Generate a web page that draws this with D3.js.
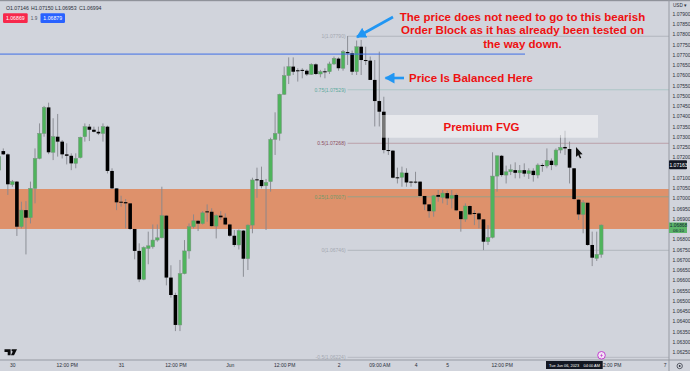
<!DOCTYPE html>
<html>
<head>
<meta charset="utf-8">
<script src="https://cdn.jsdelivr.net/npm/d3@7"></script>
<style>
    html, body { margin: 0; padding: 0; background: #d1d4dc; overflow: hidden; }
    svg { display: block; font-family: "Liberation Sans", Arial, sans-serif; }
    .tick text { fill: #2a2e39; font-size: 5px; }
</style>
</head>
<body>
<svg id="chart" width="690" height="371"></svg>
<script>
// hourly EUR/USD candles, left to right
const opens = [
    1.07137,1.07230,1.07214,1.07066,1.07081,1.06861,1.06942,1.06905,1.07048,1.07194,1.07316,1.07443,1.07224,1.07300,1.07276,1.07214,1.07207,1.07170,1.07198,1.07300,
    1.07349,1.07334,1.07324,1.07316,1.07349,1.07133,1.07048,1.06983,1.06981,1.06975,1.06850,1.06743,1.06604,1.06755,1.06763,1.06796,1.06807,1.06915,1.06613,1.06528,
    1.06382,1.06632,1.06743,1.06861,1.06890,1.06876,1.06936,1.06934,1.06864,1.06915,1.06905,1.06872,1.06817,1.06772,1.06842,1.06705,1.06869,1.07092,1.07089,1.07061,
    1.07081,1.07287,1.07316,1.07507,1.07598,1.07642,1.07624,1.07626,1.07622,1.07604,1.07653,1.07606,1.07619,1.07617,1.07655,1.07681,1.07634,1.07713,1.07707,1.07617,
    1.07739,1.07674,1.07671,1.07577,1.07474,1.07422,1.07235,1.07232,1.07102,1.07102,1.07124,1.07081,1.07081,1.07081,1.07011,1.06970,1.06937,1.07016,1.07004,1.07025,
    1.06999,1.07016,1.06937,1.06898,1.06962,1.06928,1.06926,1.06897,1.06788,1.06809,1.07108,1.07207,1.07113,1.07129,1.07137,1.07124,1.07137,1.07120,1.07134,1.07113,
    1.07162,1.07157,1.07183,1.07162,1.07235,1.07250,1.07240,1.07146,1.06993,1.06921,1.06978,1.06772,1.06707,1.06726
];
const highs = [
    1.07211,1.07243,1.07219,1.07089,1.07084,1.06983,1.06986,1.07081,1.07243,1.07365,1.07450,1.07466,1.07390,1.07411,1.07284,1.07268,1.07219,1.07219,1.07300,1.07365,
    1.07362,1.07349,1.07349,1.07365,1.07354,1.07146,1.07048,1.07012,1.06996,1.06975,1.06850,1.06780,1.06765,1.06837,1.06872,1.06872,1.07056,1.06918,1.06673,1.06539,
    1.06699,1.06796,1.06877,1.06921,1.06894,1.06937,1.06970,1.06951,1.06921,1.06937,1.06926,1.06876,1.06845,1.06848,1.06845,1.06872,1.07100,1.07149,1.07154,1.07094,
    1.07295,1.07419,1.07510,1.07642,1.07687,1.07687,1.07634,1.07634,1.07629,1.07658,1.07658,1.07626,1.07634,1.07666,1.07691,1.07687,1.07723,1.07791,1.07720,1.07769,
    1.07772,1.07739,1.07691,1.07674,1.07715,1.07495,1.07295,1.07235,1.07149,1.07154,1.07146,1.07084,1.07129,1.07081,1.07011,1.06970,1.07016,1.07040,1.07040,1.07037,
    1.07040,1.07024,1.06937,1.06975,1.06967,1.06942,1.06931,1.06897,1.06869,1.07224,1.07207,1.07211,1.07159,1.07165,1.07175,1.07162,1.07170,1.07146,1.07146,1.07170,
    1.07170,1.07243,1.07194,1.07243,1.07308,1.07329,1.07276,1.07146,1.06996,1.06991,1.06978,1.06837,1.06837,1.06872
];
const lows = [
    1.07129,1.07211,1.07016,1.07056,1.06816,1.06853,1.06726,1.06877,1.06975,1.07190,1.07300,1.07215,1.07186,1.07203,1.07194,1.07165,1.07137,1.07146,1.07194,1.07276,
    1.07279,1.07321,1.07308,1.07276,1.07121,1.07045,1.06942,1.06959,1.06853,1.06845,1.06702,1.06591,1.06600,1.06678,1.06754,1.06788,1.06804,1.06575,1.06515,1.06352,
    1.06352,1.06629,1.06705,1.06853,1.06840,1.06872,1.06885,1.06861,1.06804,1.06894,1.06869,1.06812,1.06763,1.06750,1.06617,1.06650,1.06829,1.07002,1.07048,1.06845,
    1.07032,1.07211,1.07281,1.07504,1.07557,1.07601,1.07569,1.07585,1.07596,1.07601,1.07601,1.07590,1.07585,1.07606,1.07650,1.07622,1.07622,1.07650,1.07601,1.07601,
    1.07601,1.07650,1.07577,1.07350,1.07350,1.07219,1.07211,1.07097,1.07072,1.07056,1.07056,1.07056,1.07072,1.07007,1.06942,1.06905,1.06910,1.06983,1.06975,1.06967,
    1.06950,1.06937,1.06837,1.06885,1.06918,1.06869,1.06853,1.06747,1.06772,1.06804,1.07032,1.07105,1.07072,1.07113,1.07097,1.07097,1.07105,1.07094,1.07081,1.07097,
    1.07129,1.07146,1.07137,1.07154,1.07219,1.07211,1.07072,1.06991,1.06894,1.06829,1.06768,1.06669,1.06694,1.06710
];
const closes = [
    1.07203,1.07214,1.07068,1.07081,1.06861,1.06942,1.06905,1.07048,1.07194,1.07316,1.07443,1.07224,1.07300,1.07276,1.07214,1.07207,1.07170,1.07194,1.07297,1.07349,
    1.07334,1.07324,1.07316,1.07349,1.07133,1.07048,1.06980,1.06978,1.06975,1.06850,1.06743,1.06604,1.06760,1.06768,1.06796,1.06807,1.06915,1.06613,1.06528,1.06382,
    1.06632,1.06743,1.06861,1.06890,1.06876,1.06929,1.06931,1.06864,1.06915,1.06907,1.06872,1.06817,1.06772,1.06842,1.06705,1.06869,1.07089,1.07089,1.07059,1.07077,
    1.07287,1.07316,1.07507,1.07598,1.07642,1.07617,1.07621,1.07621,1.07604,1.07653,1.07606,1.07617,1.07616,1.07655,1.07682,1.07634,1.07715,1.07707,1.07617,1.07739,
    1.07674,1.07671,1.07577,1.07474,1.07422,1.07235,1.07232,1.07100,1.07098,1.07124,1.07077,1.07077,1.07077,1.07011,1.06970,1.06937,1.07012,1.07007,1.07025,1.06999,
    1.07014,1.06941,1.06898,1.06962,1.06921,1.06924,1.06897,1.06788,1.06809,1.07108,1.07207,1.07113,1.07129,1.07139,1.07124,1.07136,1.07120,1.07134,1.07113,1.07162,
    1.07157,1.07185,1.07162,1.07235,1.07248,1.07243,1.07149,1.06996,1.06921,1.06978,1.06772,1.06710,1.06726,1.06869
];

const priceTicks = [1.079,1.0785,1.078,1.0775,1.077,1.0765,1.076,1.0755,1.075,1.0745,1.074,1.0735,1.073,1.0725,1.072,1.071,1.0705,1.07,1.0695,1.069,1.068,1.0675,1.067,1.0665,1.066,1.0655,1.065,1.0645,1.064,1.0635,1.063,1.0625];
const timeSlots = [3,15,27,39,51,63,75,84,92,99,111,135,147];
const timeLabels = ["30","12:00 PM","31","12:00 PM","Jun","12:00 PM","2","09:00 AM","4","5","12:00 PM","12:00 PM","7"];

// fib retracement
const fibPrices = [1.0779,1.07529,1.07268,1.07007,1.06746,1.06224];
const fibLabels = ["1(1.07790)","0.75(1.07529)","0.5(1.07268)","0.25(1.07007)","0(1.06746)","-0.5(1.06224)"];
const fibLineColors = ["#aeb2ba","#a9c4c4","#b99aa4","#8fa38a","#aeb2ba","#b4b7bf"];
const fibTextColors = ["#a4a8b1","#5aa99b","#8c4a5c","#6f9a6a","#a4a8b1","#a4a8b1"];

const headerParts = ["O1.07146","H1.07150","L1.06953","C1.06994"];
const headerStarts = [6,31,55,79];

const width = 690, height = 371, axisX = 669, axisY = 360;

const x = d3.scaleLinear().domain([0, 147]).range([-1.23, 664.68]);
const y = d3.scaleLinear().domain([1.079, 1.0625]).range([13.7, 352]);

const svg = d3.select("#chart");

// top edge
svg.append("rect").attr("width", width).attr("height", 1.2).attr("fill", "#8f929a");

//orange zone behind the candles
svg.append("rect")
    .attr("x", 0)
    .attr("width", axisX)
    .attr("y", y(1.07045))
    .attr("height", y(1.0685) - y(1.07045))
    .attr("fill", "#de916b");

// fib levels
fibPrices.forEach(function(p, i) {
    svg.append("line")
        .attr("x1", x(77)).attr("x2", axisX)
        .attr("y1", y(p)).attr("y2", y(p))
        .attr("stroke", fibLineColors[i])
        .attr("stroke-width", 0.9);
    svg.append("text")
        .attr("x", x(77) - 2)
        .attr("y", y(p) + 1.8)
        .attr("text-anchor", "end")
        .attr("font-size", 5)
        .attr("fill", fibTextColors[i])
        .text(fibLabels[i]);
});

// candles
const candles = svg.append("g").selectAll("g")
    .data(opens.map(function(o, i) { return i; }))
    .enter().append("g");

candles.append("line")
    .attr("x1", function(i) { return x(i); })
    .attr("x2", function(i) { return x(i); })
    .attr("y1", function(i) { return y(highs[i]); })
    .attr("y2", function(i) { return y(lows[i]); })
    .attr("stroke", "#85878d")
    .attr("stroke-width", 0.9);

candles.append("rect")
    .attr("x", function(i) { return x(i) - 1.8; })
    .attr("width", 3.6)
    .attr("y", function(i) { return y(Math.max(opens[i], closes[i])); })
    .attr("height", function(i) { return Math.max(1, Math.abs(y(opens[i]) - y(closes[i]))); })
    .attr("fill", function(i) { return closes[i] >= opens[i] ? "#4fb45c" : "#000"; })
    .attr("stroke", function(i) { return closes[i] >= opens[i] ? "#77907e" : "none"; })
    .attr("stroke-width", 0.5);

// blue horizontal
svg.append("line")
    .attr("x1", 0).attr("x2", 525)
    .attr("y1", y(1.07703)).attr("y2", y(1.07703))
    .attr("stroke", "#3f6fe6")
    .attr("stroke-width", 1);

// premium fvg box sits over the candles
svg.append("rect")
    .attr("x", x(85) - 2.5)
    .attr("width", 598 - x(85) + 2.5)
    .attr("y", y(1.07406))
    .attr("height", y(1.07295) - y(1.07406))
    .attr("fill", "#fff")
    .attr("fill-opacity", 0.47);

// annotations
const noteLines = ["The price does not need to go to this bearish", "Order Block as it has already been tested on", "the way down."];
svg.append("g").selectAll("text")
    .data(noteLines)
    .enter().append("text")
    .attr("x", 522.5)
    .attr("y", function(d, i) { return 20.7 + i * 13.4; })
    .attr("text-anchor", "middle")
    .attr("font-size", 11.5)
    .attr("font-weight", "bold")
    .attr("fill", "#ee1111")
    .text(function(d) { return d; });

svg.append("text")
    .attr("x", 409).attr("y", 82)
    .attr("font-size", 11.5).attr("font-weight", "bold")
    .attr("fill", "#ee1111")
    .text("Price Is Balanced Here");

svg.append("text")
    .attr("x", 481.5).attr("y", 130.5)
    .attr("text-anchor", "middle")
    .attr("font-size", 11.5).attr("font-weight", "bold")
    .attr("fill", "#ee1111")
    .text("Premium FVG");

// blue arrows
svg.append("defs").append("marker")
    .attr("id", "head")
    .attr("markerUnits", "userSpaceOnUse")
    .attr("markerWidth", 11).attr("markerHeight", 11)
    .attr("refX", 9).attr("refY", 5.5)
    .attr("orient", "auto")
    .append("path")
    .attr("d", "M0,0L10,5.5L0,11Z")
    .attr("fill", "#2196f3");

svg.append("line")
    .attr("x1", 393).attr("y1", 17).attr("x2", 357).attr("y2", 37)
    .attr("stroke", "#2196f3").attr("stroke-width", 2.6)
    .attr("marker-end", "url(#head)");
svg.append("line")
    .attr("x1", 404).attr("y1", 78).attr("x2", 385.5).attr("y2", 78)
    .attr("stroke", "#2196f3").attr("stroke-width", 2.6)
    .attr("marker-end", "url(#head)");

// mouse cursor
svg.append("path")
    .attr("d", "M576,147L576,157L578.2,155L580,158.5L581.3,157.8L579.7,154.5L582.6,154.2Z")
    .attr("fill", "#111");

// price axis
svg.append("g")
    .attr("transform", "translate(" + axisX + ",0)")
    .call(d3.axisRight(y).tickValues(priceTicks).tickSize(0).tickPadding(3.5).tickFormat(d3.format(".5f")))
    .call(function(g) { g.select(".domain").remove(); });

// time axis
svg.append("g")
    .attr("transform", "translate(0," + axisY + ")")
    .call(d3.axisBottom(x).tickValues(timeSlots).tickSize(0).tickPadding(3)
        .tickFormat(function(d, i) { return timeLabels[i]; }))
    .call(function(g) { g.select(".domain").remove(); });

svg.append("line").attr("x1", axisX).attr("x2", axisX).attr("y1", 0).attr("y2", height)
    .attr("stroke", "#969aa3").attr("stroke-width", 1);
svg.append("line").attr("x1", 0).attr("x2", width).attr("y1", axisY).attr("y2", axisY)
    .attr("stroke", "#969aa3").attr("stroke-width", 1);

svg.append("text").attr("x", 673).attr("y", 7)
    .attr("font-size", 4.6).attr("fill", "#2a2e39").text("USD ▾");

// price tags
svg.append("rect").attr("x", axisX).attr("y", y(1.07163) - 4.5).attr("width", 18).attr("height", 9).attr("rx", 1).attr("fill", "#131722");
svg.append("text").attr("x", 678.5).attr("y", y(1.07163) + 1.8).attr("text-anchor", "middle").attr("font-size", 5).attr("fill", "#fff").text("1.07163");
svg.append("rect").attr("x", axisX).attr("y", 222.5).attr("width", 18).attr("height", 10.5).attr("fill", "#5cb56a");
svg.append("text").attr("x", 678.5).attr("y", 227.3).attr("text-anchor", "middle").attr("font-size", 4.8).attr("fill", "#123").text("1.06868");
svg.append("text").attr("x", 678.5).attr("y", 232).attr("text-anchor", "middle").attr("font-size", 4.4).attr("fill", "#123").text("06:10");

// header
svg.append("g").selectAll("text")
    .data(headerParts)
    .enter().append("text")
    .attr("x", function(d, i) { return headerStarts[i]; })
    .attr("y", 9.5)
    .attr("font-size", 5.2)
    .attr("fill", "#2a2e39")
    .text(function(d) { return d; });

svg.append("rect").attr("x", 3).attr("y", 13.3).attr("width", 24.7).attr("height", 9.7).attr("rx", 1.2).attr("fill", "#f7284c");
svg.append("text").attr("x", 15.3).attr("y", 20).attr("text-anchor", "middle").attr("font-size", 5.2).attr("fill", "#fff").text("1.06869");
svg.append("text").attr("x", 34).attr("y", 20).attr("text-anchor", "middle").attr("font-size", 4.6).attr("fill", "#50535e").text("1.9");
svg.append("rect").attr("x", 40.5).attr("y", 13.3).attr("width", 24.5).attr("height", 9.7).attr("rx", 1.2).attr("fill", "#2962ff");
svg.append("text").attr("x", 52.7).attr("y", 20).attr("text-anchor", "middle").attr("font-size", 5.2).attr("fill", "#fff").text("1.06879");

// tv logo
svg.append("path")
    .attr("d", "M4.5,349.3H10.6V355.2H7.7V352H4.5Z M11.8,349.3H17L14,355.2H10.9L12.8,351.4A1.3,1.3 0 0 1 11.8,349.3Z")
    .attr("fill", "#0b0b0d");

// crosshair date + event badge
svg.append("rect").attr("x", 546).attr("y", 361).attr("width", 56.7).attr("height", 8).attr("fill", "#131722");
svg.append("text").attr("x", 549).attr("y", 366.6).attr("font-size", 3.9).attr("fill", "#fff").text("Tue Jun 06, 2023");
svg.append("text").attr("x", 583.5).attr("y", 366.6).attr("font-size", 3.9).attr("fill", "#fff").text("04:00 AM");
svg.append("circle").attr("cx", 601.5).attr("cy", 355.3).attr("r", 3.8).attr("fill", "#f3e6f5").attr("stroke", "#c23fd0").attr("stroke-width", 1);
svg.append("path").attr("d", "M602.4,352.9L600.1,355.7H601.4L600.7,357.7L602.9,354.9H601.6Z").attr("fill", "#c23fd0");

// settings button corner
svg.append("circle").attr("cx", 679.7).attr("cy", 366).attr("r", 2.7).attr("fill", "none").attr("stroke", "#2a2e39").attr("stroke-width", 0.7);
svg.append("circle").attr("cx", 679.7).attr("cy", 366).attr("r", 0.9).attr("fill", "#2a2e39");
</script>
</body>
</html>
